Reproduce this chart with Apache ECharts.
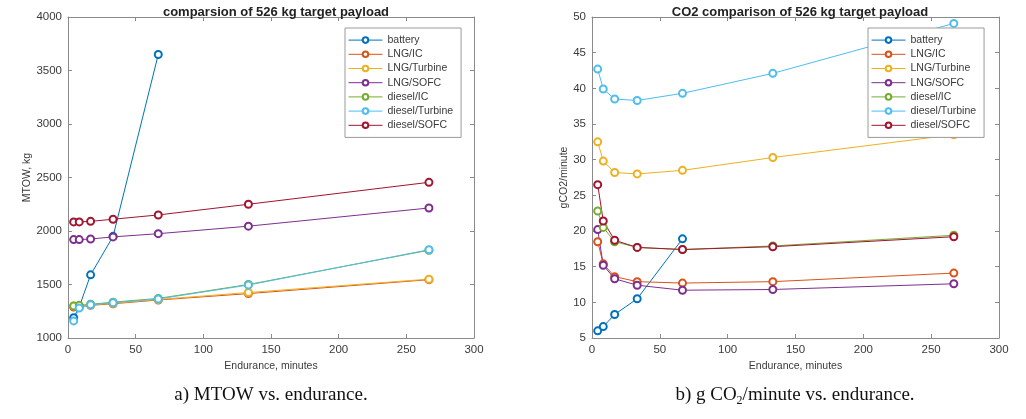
<!DOCTYPE html>
<html>
<head>
<meta charset="utf-8">
<script src="https://cdn.jsdelivr.net/npm/echarts@6/dist/echarts.min.js"></script>
<style>
html,body{margin:0;padding:0;background:#fff;}
#c{width:1026px;height:419px;}
</style>
</head>
<body>
<div id="c"></div>
<script>
// ---- data ----
const endurance = [4.2, 8.3, 16.7, 33.3, 66.7, 133.3, 266.7];
const seriesNames = ['battery', 'LNG/IC', 'LNG/Turbine', 'LNG/SOFC', 'diesel/IC', 'diesel/Turbine', 'diesel/SOFC'];
const seriesColors = ['#0072BD', '#D95319', '#EDB120', '#7E2F8E', '#77AC30', '#4DBEEE', '#A2142F'];

// MTOW, kg
const mtowBattery = [1190, 1290, 1590, 1950, 3650];
const mtowLngIC = [1290, 1295, 1305, 1320, 1355, 1415, 1545];
const mtowLngTurbine = [1300, 1300, 1310, 1325, 1360, 1425, 1550];
const mtowLngSOFC = [1920, 1920, 1925, 1945, 1975, 2045, 2215];
const mtowDieselIC = [1300, 1305, 1315, 1335, 1370, 1500, 1820];
const mtowDieselTurbine = [1160, 1280, 1310, 1330, 1365, 1495, 1825];
const mtowDieselSOFC = [2085, 2085, 2090, 2110, 2150, 2250, 2455];

// g CO2 / minute
const co2Battery = [6.0, 6.6, 8.3, 10.5, 18.9];
const co2LngIC = [18.5, 15.4, 13.6, 12.9, 12.7, 12.9, 14.1];
const co2LngTurbine = [32.5, 29.8, 28.2, 28.0, 28.5, 30.3, 33.5];
const co2LngSOFC = [20.2, 15.2, 13.3, 12.4, 11.7, 11.8, 12.6];
const co2DieselIC = [22.8, 20.5, 18.5, 17.7, 17.4, 17.9, 19.4];
const co2DieselTurbine = [42.7, 39.9, 38.5, 38.3, 39.3, 42.1, 49.1];
const co2DieselSOFC = [26.5, 21.4, 18.7, 17.7, 17.4, 17.8, 19.2];

const xTicks = [0, 50, 100, 150, 200, 250, 300];
const leftTitle = 'comparsion of 526 kg target payload';
const rightTitle = 'CO2 comparison of 526 kg target payload';

const mtowSets = [mtowBattery, mtowLngIC, mtowLngTurbine, mtowLngSOFC, mtowDieselIC, mtowDieselTurbine, mtowDieselSOFC];
const co2Sets = [co2Battery, co2LngIC, co2LngTurbine, co2LngSOFC, co2DieselIC, co2DieselTurbine, co2DieselSOFC];

// ---- chart ----
const FONT = 'Liberation Sans, Arial, sans-serif';
const AX = '#8a8a8a';
const TXT = '#3a3a3a';

function pairs(vals) { return vals.map((v, i) => [endurance[i], v]); }

function mainX(grid) {
  return {
    gridIndex: grid, type: 'value', min: 0, max: 300, interval: 50,
    name: 'Endurance, minutes', nameLocation: 'middle', nameGap: 21,
    nameTextStyle: { fontFamily: FONT, fontSize: 10.5, color: TXT },
    axisLine: { show: true, onZero: false, lineStyle: { color: AX, width: 1 } },
    axisTick: { show: true, inside: true, length: 4, lineStyle: { color: AX } },
    axisLabel: { fontFamily: FONT, fontSize: 11.5, color: TXT, margin: 6, formatter: v => xTicks.includes(v) ? String(v) : '' },
    splitLine: { show: false }
  };
}
function topX(grid) {
  return {
    gridIndex: grid, type: 'value', min: 0, max: 300, interval: 50, position: 'top',
    axisLine: { show: true, onZero: false, lineStyle: { color: AX, width: 1 } },
    axisTick: { show: true, inside: true, length: 4, lineStyle: { color: AX } },
    axisLabel: { show: false }, splitLine: { show: false }
  };
}
function mainY(grid, min, max, interval, name, gap) {
  return {
    gridIndex: grid, type: 'value', min: min, max: max, interval: interval,
    name: name, nameLocation: 'middle', nameGap: gap, nameRotate: 90,
    nameTextStyle: { fontFamily: FONT, fontSize: 10.5, color: TXT },
    axisLine: { show: true, onZero: false, lineStyle: { color: AX, width: 1 } },
    axisTick: { show: true, inside: true, length: 4, lineStyle: { color: AX } },
    axisLabel: { fontFamily: FONT, fontSize: 11.5, color: TXT, margin: 6, formatter: v => String(v) },
    splitLine: { show: false }
  };
}
function rightY(grid, min, max, interval) {
  return {
    gridIndex: grid, type: 'value', min: min, max: max, interval: interval, position: 'right',
    axisLine: { show: true, onZero: false, lineStyle: { color: AX, width: 1 } },
    axisTick: { show: true, inside: true, length: 4, lineStyle: { color: AX } },
    axisLabel: { show: false }, splitLine: { show: false }
  };
}

const series = [];
seriesNames.forEach((n, i) => {
  series.push({
    name: n, type: 'line', xAxisIndex: 0, yAxisIndex: 0,
    data: pairs(mtowSets[i]), symbol: 'emptyCircle', symbolSize: 7,
    color: seriesColors[i], lineStyle: { width: 1 }, itemStyle: { borderWidth: 1 },
    animation: false
  });
});
seriesNames.forEach((n, i) => {
  series.push({
    name: n, type: 'line', xAxisIndex: 2, yAxisIndex: 2,
    data: pairs(co2Sets[i]), symbol: 'emptyCircle', symbolSize: 7,
    color: seriesColors[i], lineStyle: { width: 1 }, itemStyle: { borderWidth: 1 },
    animation: false
  });
});

function legend(left) {
  return {
    orient: 'vertical', left: left, top: 28, width: 120,
    data: seriesNames,
    backgroundColor: '#fff', borderColor: '#9a9a9a', borderWidth: 1,
    padding: [5, 8, 5, 3],
    itemWidth: 34, itemHeight: 7, itemGap: 0,
    itemStyle: { borderWidth: 1 },
    lineStyle: { width: 1 },
    textStyle: { fontFamily: FONT, fontSize: 10.5, color: TXT, lineHeight: 14.2 },
    selectedMode: false
  };
}

const option = {
  animation: false,
  backgroundColor: '#fff',
  title: [
    { text: leftTitle, left: 271, top: 1, textAlign: 'center',
      textStyle: { fontFamily: FONT, fontSize: 13, fontWeight: 'bold', color: '#222' } },
    { text: rightTitle, left: 795, top: 1, textAlign: 'center',
      textStyle: { fontFamily: FONT, fontSize: 13, fontWeight: 'bold', color: '#222' } }
  ],
  grid: [
    { left: 68, top: 17, width: 406, height: 321 },
    { left: 592, top: 17, width: 407, height: 321 }
  ],
  xAxis: [mainX(0), topX(0), mainX(1), topX(1)],
  yAxis: [
    mainY(0, 1000, 4000, 500, 'MTOW, kg', 30),
    rightY(0, 1000, 4000, 500),
    mainY(1, 5, 50, 5, 'gCO2/minute', 22),
    rightY(1, 5, 50, 5)
  ],
  legend: [legend(345), legend(868)],
  series: series,
  graphic: [
    { type: 'text', x: 271, y: 386, style: {
        text: 'a) MTOW vs. endurance.', font: '19px "Liberation Serif", "Times New Roman", serif',
        fill: '#111', textAlign: 'center' } },
    { type: 'text', x: 795, y: 383, style: {
        text: '{a|b) g CO}{s|2}{a|/minute vs. endurance.}', textAlign: 'center',
        rich: {
          a: { fontFamily: 'Liberation Serif, Times New Roman, serif', fontSize: 19, fill: '#111', lineHeight: 24 },
          s: { fontFamily: 'Liberation Serif, Times New Roman, serif', fontSize: 12, fill: '#111', lineHeight: 24, verticalAlign: 'bottom', padding: [6, 0, 0, 0] }
        } } }
  ]
};

const chart = echarts.init(document.getElementById('c'), null, { renderer: 'canvas' });
chart.setOption(option);
</script>
</body>
</html>
